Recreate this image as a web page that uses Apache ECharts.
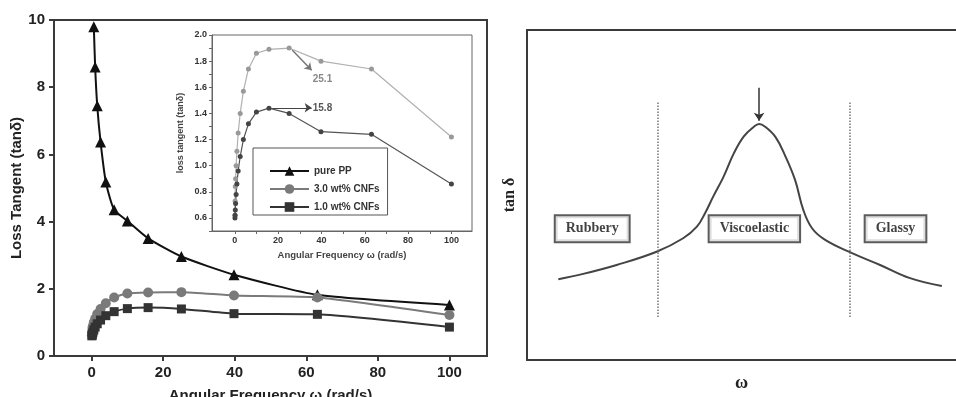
<!DOCTYPE html>
<html>
<head>
<meta charset="utf-8">
<script src="https://cdn.jsdelivr.net/npm/echarts@6/dist/echarts.min.js"></script>
<style>
  html, body { margin: 0; padding: 0; background: #fff; }
  #chart { width: 956px; height: 397px; }
</style>
</head>
<body>
<div id="chart"></div>
<script>
    // angular frequency (rad/s)
    const freq = [0.1, 0.158, 0.251, 0.398, 0.631, 1, 1.58, 2.51, 3.98, 6.31, 10, 15.8, 25.1, 39.8, 63.1, 100]
    const ppFreq = [0.631, 1, 1.58, 2.51, 3.98, 6.31, 10, 15.8, 25.1, 39.8, 63.1, 100]
    // loss tangent values
    const purePP = [9.8, 8.6, 7.45, 6.37, 5.18, 4.35, 4.02, 3.5, 2.96, 2.42, 1.82, 1.52]
    const cnf3 = [0.62, 0.73, 0.84, 0.90, 1.00, 1.11, 1.25, 1.40, 1.57, 1.74, 1.86, 1.89, 1.90, 1.80, 1.74, 1.22]
    const cnf1 = [0.60, 0.62, 0.66, 0.71, 0.78, 0.86, 0.96, 1.07, 1.20, 1.32, 1.41, 1.44, 1.40, 1.26, 1.24, 0.86]
    const names = ['pure PP', '3.0 wt% CNFs', '1.0 wt% CNFs']
    const mainXTicks = [0, 20, 40, 60, 80, 100]
    const insetXTicks = [0, 10, 20, 30, 40, 50, 60, 70, 80, 90, 100]
    const insetXLabels = [0, 20, 40, 60, 80, 100]
    const insetYTicks = [0.5, 0.6, 0.7, 0.8, 0.9, 1.0, 1.1, 1.2, 1.3, 1.4, 1.5, 1.6, 1.7, 1.8, 1.9, 2.0]
    const insetYLabels = [0.6, 0.8, 1.0, 1.2, 1.4, 1.6, 1.8, 2.0]

    // schematic tan delta curve (arbitrary units)
    const curveX = [7.3, 13.1, 20.9, 30.2, 36.4, 39.6, 41.5, 43.4, 45.8, 48.2, 50.5, 52.9, 54.1, 55.5, 57.9, 60.1, 62.5, 64.4, 66.4, 69.5, 75.9, 82.3, 89.3, 96.7]
    const curveY = [24.5, 26.1, 28.8, 32.8, 36.9, 40.4, 44.5, 49.5, 55.5, 62.6, 67.7, 70.7, 71.5, 70.7, 67.6, 62.1, 54.5, 45.5, 40, 36.4, 32.3, 28.8, 24.8, 22.4]
    const regionBounds = [30.5, 75.3]
    const regions = ['Rubbery', 'Viscoelastic', 'Glassy']
    const regionX = [15.2, 53.0, 85.9]

    const sans = 'Liberation Sans, Arial, sans-serif'
    const serif = 'Liberation Serif, Times New Roman, serif'
    const zip = (xs, ys) => xs.map((x, i) => [x, ys[i]])

    const chart = echarts.init(document.getElementById('chart'))

    const frameLine = { lineStyle: { color: '#3a3a3a', width: 2 } }

    const option = {
        animation: false,
        grid: [
            { left: 54, top: 20, right: 469, bottom: 41, outerBoundsMode: 'none', show: true, borderColor: '#3a3a3a', borderWidth: 2 },
            { left: 212, top: 35, width: 260, bottom: 166, outerBoundsMode: 'none', show: true, borderColor: '#666', borderWidth: 1, backgroundColor: '#fff', z: 5 },
            { left: 527, top: 30, right: 0, bottom: 37, outerBoundsMode: 'none' }
        ],
        legend: {
            orient: 'vertical',
            left: 253,
            top: 148,
            padding: [18, 8, 3, 16],
            itemWidth: 39,
            itemHeight: 12,
            itemGap: 8,
            borderColor: '#555',
            borderWidth: 1,
            textStyle: { fontSize: 10, fontWeight: 'bold', color: '#333', fontFamily: sans },
            data: names,
            z: 10
        },
        xAxis: [
            {
                gridIndex: 0,
                type: 'value',
                min: -10.5,
                max: 110.5,
                name: 'Angular Frequency ω (rad/s)',
                nameLocation: 'middle',
                nameGap: 32,
                nameTextStyle: { fontSize: 15, fontWeight: 'bold', color: '#222', fontFamily: sans },
                axisLine: { onZero: false, lineStyle: { color: '#3a3a3a', width: 2 } },
                axisTick: { customValues: mainXTicks, length: 5, lineStyle: { width: 2, color: '#3a3a3a' } },
                axisLabel: { customValues: mainXTicks, margin: 9, fontSize: 15, fontWeight: 'bold', color: '#222', fontFamily: sans },
                splitLine: { show: false }
            },
            {
                gridIndex: 1,
                type: 'value',
                min: -10.5,
                max: 109.5,
                name: 'Angular Frequency ω (rad/s)',
                nameLocation: 'middle',
                nameGap: 19,
                nameTextStyle: { fontSize: 9.5, fontWeight: 'bold', color: '#444', fontFamily: sans },
                axisLine: { onZero: false, lineStyle: { color: '#666', width: 1 } },
                axisTick: { customValues: insetXTicks, length: 3, lineStyle: { color: '#666' } },
                axisLabel: { customValues: insetXLabels, margin: 5, fontSize: 9, fontWeight: 'bold', color: '#333', fontFamily: sans },
                splitLine: { show: false },
                z: 6
            },
            {
                gridIndex: 2,
                type: 'value',
                min: 0,
                max: 100,
                name: 'ω',
                nameLocation: 'middle',
                nameGap: 14,
                nameTextStyle: { fontSize: 18, fontWeight: 'bold', color: '#222', fontFamily: serif },
                axisLine: { onZero: false, ...frameLine },
                axisTick: { show: false },
                axisLabel: { show: false },
                splitLine: { show: false }
            },
            {
                gridIndex: 2,
                type: 'value',
                position: 'top',
                min: 0,
                max: 100,
                axisLine: { onZero: false, ...frameLine },
                axisTick: { show: false },
                axisLabel: { show: false },
                splitLine: { show: false }
            }
        ],
        yAxis: [
            {
                gridIndex: 0,
                type: 'value',
                min: 0,
                max: 10,
                interval: 2,
                name: 'Loss Tangent (tanδ)',
                nameLocation: 'middle',
                nameGap: 28,
                nameTextStyle: { fontSize: 15, fontWeight: 'bold', color: '#222', fontFamily: sans },
                axisLine: { show: true, onZero: false, lineStyle: { color: '#3a3a3a', width: 2 } },
                axisTick: { show: true, length: 5, lineStyle: { width: 2, color: '#3a3a3a' } },
                axisLabel: { margin: 9, fontSize: 15, fontWeight: 'bold', color: '#222', fontFamily: sans },
                splitLine: { show: false }
            },
            {
                gridIndex: 1,
                type: 'value',
                min: 0.5,
                max: 2.0,
                name: 'loss tangent (tanδ)',
                nameLocation: 'middle',
                nameGap: 27,
                nameTextStyle: { fontSize: 9, fontWeight: 'bold', color: '#444', fontFamily: sans },
                axisLine: { show: true, onZero: false, lineStyle: { color: '#666', width: 1 } },
                axisTick: { show: true, customValues: insetYTicks, length: 3, lineStyle: { color: '#666' } },
                axisLabel: { customValues: insetYLabels, margin: 5, fontSize: 9, fontWeight: 'bold', color: '#333', fontFamily: sans, formatter: v => v.toFixed(1) },
                splitLine: { show: false },
                z: 6
            },
            {
                gridIndex: 2,
                type: 'value',
                min: 0,
                max: 100,
                name: 'tan δ',
                nameLocation: 'middle',
                nameGap: 9,
                nameTextStyle: { fontSize: 16, fontWeight: 'bold', color: '#222', fontFamily: serif },
                axisLine: { show: true, onZero: false, ...frameLine },
                axisTick: { show: false },
                axisLabel: { show: false },
                splitLine: { show: false }
            }
        ],
        series: [
            {
                name: names[0],
                type: 'line',
                xAxisIndex: 0,
                yAxisIndex: 0,
                data: zip(ppFreq, purePP),
                symbol: 'triangle',
                symbolSize: 11,
                smooth: 0.2,
                lineStyle: { color: '#111', width: 2 },
                itemStyle: { color: '#111' }
            },
            {
                name: names[1],
                type: 'line',
                xAxisIndex: 0,
                yAxisIndex: 0,
                data: zip(freq, cnf3),
                symbol: 'circle',
                symbolSize: 10,
                smooth: 0.2,
                lineStyle: { color: '#7a7a7a', width: 2 },
                itemStyle: { color: '#7a7a7a' }
            },
            {
                name: names[2],
                type: 'line',
                xAxisIndex: 0,
                yAxisIndex: 0,
                data: zip(freq, cnf1),
                symbol: 'rect',
                symbolSize: 9,
                smooth: 0.2,
                lineStyle: { color: '#333', width: 2 },
                itemStyle: { color: '#333' }
            },
            {
                name: names[1],
                type: 'line',
                xAxisIndex: 1,
                yAxisIndex: 1,
                data: zip(freq, cnf3),
                symbol: 'circle',
                symbolSize: 5,
                lineStyle: { color: '#b0b0b0', width: 1.2 },
                itemStyle: { color: '#999' },
                z: 7,
                markLine: {
                    silent: true,
                    symbol: ['none', 'arrow'],
                    symbolSize: 7,
                    lineStyle: { color: '#777', width: 1.5, type: 'solid' },
                    label: { show: false },
                    data: [[{ coord: [26.5, 1.885] }, { coord: [35.5, 1.73] }]]
                },
                markPoint: {
                    silent: true,
                    symbol: 'circle',
                    symbolSize: 0,
                    label: { show: true, position: 'right', distance: 0, fontSize: 10, fontWeight: 'bold', color: '#888', fontFamily: sans, formatter: '25.1' },
                    data: [{ coord: [36, 1.66] }]
                }
            },
            {
                name: names[2],
                type: 'line',
                xAxisIndex: 1,
                yAxisIndex: 1,
                data: zip(freq, cnf1),
                symbol: 'circle',
                symbolSize: 5,
                lineStyle: { color: '#555', width: 1.2 },
                itemStyle: { color: '#444' },
                z: 7,
                markLine: {
                    silent: true,
                    symbol: ['none', 'arrow'],
                    symbolSize: 7,
                    lineStyle: { color: '#444', width: 1.2, type: 'solid' },
                    label: { show: false },
                    data: [[{ coord: [17, 1.443] }, { coord: [35.5, 1.443] }]]
                },
                markPoint: {
                    silent: true,
                    symbol: 'circle',
                    symbolSize: 0,
                    label: { show: true, position: 'right', distance: 0, fontSize: 10, fontWeight: 'bold', color: '#555', fontFamily: sans, formatter: '15.8' },
                    data: [{ coord: [36, 1.443] }]
                }
            },
            {
                type: 'line',
                xAxisIndex: 2,
                yAxisIndex: 2,
                data: zip(curveX, curveY),
                symbol: 'none',
                smooth: 0.4,
                lineStyle: { color: '#444', width: 2 },
                markLine: {
                    silent: true,
                    symbol: 'none',
                    label: { show: false },
                    lineStyle: { color: '#777', width: 1.5, type: 'dotted' },
                    data: regionBounds.map(b => [{ coord: [b, 13] }, { coord: [b, 78] }])
                }
            },
            {
                type: 'line',
                xAxisIndex: 2,
                yAxisIndex: 2,
                data: [],
                markLine: {
                    silent: true,
                    symbol: ['none', 'arrow'],
                    symbolSize: 8,
                    label: { show: false },
                    lineStyle: { color: '#333', width: 1.5, type: 'solid' },
                    data: [[{ coord: [54.1, 82.5] }, { coord: [54.1, 72.5] }]]
                }
            },
            {
                type: 'scatter',
                xAxisIndex: 2,
                yAxisIndex: 2,
                data: regionX.map((x, i) => ({ value: [x, 39.8], name: regions[i] })),
                symbol: 'rect',
                symbolSize: 1,
                itemStyle: { color: 'rgba(0,0,0,0)' },
                z: 10,
                label: {
                    show: true,
                    position: 'inside',
                    formatter: p => p.name,
                    fontSize: 14,
                    fontWeight: 'bold',
                    color: '#111',
                    fontFamily: serif,
                    backgroundColor: '#fff',
                    borderColor: '#333',
                    borderWidth: 2,
                    padding: [6, 10, 5, 10]
                }
            }
        ]
    }

    chart.setOption(option)
</script>
</body>
</html>
